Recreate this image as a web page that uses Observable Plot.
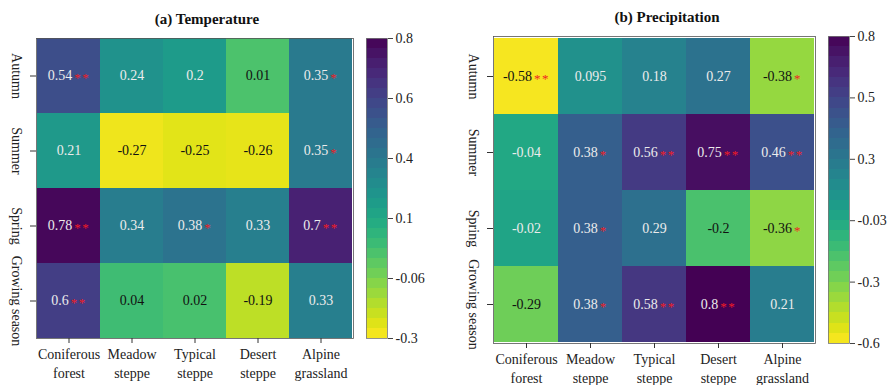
<!DOCTYPE html>
<html><head><meta charset="utf-8">
<script src="https://cdn.jsdelivr.net/npm/d3@7"></script>
<script src="https://cdn.jsdelivr.net/npm/@observablehq/plot@0.6"></script>
<style>
body{margin:0;background:#fff;}
#root{position:relative;width:894px;height:385px;overflow:hidden;font-family:'Liberation Serif',serif;background:#fff;}
.panel{position:absolute;top:0;}
.title{position:absolute;font-family:'Liberation Serif',serif;font-weight:bold;font-size:15px;line-height:15px;transform:translateX(-50%);white-space:nowrap;color:#111;}
</style></head><body><div id="root"></div>
<script>
// ---- data ----
const ecosystems = ["Coniferous forest","Meadow steppe","Typical steppe","Desert steppe","Alpine grassland"];
const xTickLabels = ["Coniferous\nforest","Meadow\nsteppe","Typical\nsteppe","Desert\nsteppe","Alpine\ngrassland"];
const seasons = ["Autumn","Summer","Spring","Growing season"];

// (a) Temperature correlations
const tempAutumn = [0.54, 0.24, 0.2, 0.01, 0.35];
const tempSummer = [0.21, -0.27, -0.25, -0.26, 0.35];
const tempSpring = [0.78, 0.34, 0.38, 0.33, 0.7];
const tempGrowing = [0.6, 0.04, 0.02, -0.19, 0.33];
const tempSigAutumn = ["**","","","","*"];
const tempSigSummer = ["","","","","*"];
const tempSigSpring = ["**","","*","","**"];
const tempSigGrowing = ["**","","","",""];
const tempColorbarLabels = ["0.8","0.6","0.4","0.1","-0.06","-0.3"];

// (b) Precipitation correlations
const precAutumn = [-0.58, 0.095, 0.18, 0.27, -0.38];
const precSummer = [-0.04, 0.38, 0.56, 0.75, 0.46];
const precSpring = [-0.02, 0.38, 0.29, -0.2, -0.36];
const precGrowing = [-0.29, 0.38, 0.58, 0.8, 0.21];
const precSigAutumn = ["**","","","","*"];
const precSigSummer = ["","*","**","**","**"];
const precSigSpring = ["","*","","","*"];
const precSigGrowing = ["","*","**","**",""];
const precColorbarLabels = ["0.8","0.5","0.3","-0.03","-0.3","-0.6"];

const root = document.getElementById("root");
const FONT = "'Liberation Serif', serif";

function buildRows(vals, sigs) {
  return seasons.flatMap((s, i) => ecosystems.map((e, j) => ({season: s, eco: e, value: vals[i][j], sig: sigs[i][j]})));
}

function addStars(svg) {
  d3.select(svg).selectAll("text").each(function() {
    if (this.querySelector("tspan")) return;
    const t = this.textContent;
    const m = t.match(/^(.*?)(\*+)$/);
    if (m) {
      this.textContent = m[1];
      const ts = document.createElementNS("http://www.w3.org/2000/svg", "tspan");
      ts.setAttribute("fill", "#f01c24");
      ts.setAttribute("font-size", "13");
      ts.setAttribute("letter-spacing", "1.5");
      ts.setAttribute("dx", "2");
      ts.setAttribute("dy", "2");
      ts.textContent = m[2];
      this.appendChild(ts);
    }
  });
}

function place(el, left) {
  const d = document.createElement("div");
  d.className = "panel";
  d.style.left = left + "px";
  d.appendChild(el);
  root.appendChild(d);
}

function heatmap({vals, sigs, lo, hi, left, width, marginLeft, marginRight, marginTop, marginBottom}) {
  const data = buildRows(vals, sigs);
  const norm = v => (v - lo) / (hi - lo);
  const dark = d => norm(d.value) < 0.35;
  const svg = Plot.plot({
    width, height: 385, marginLeft, marginRight, marginTop, marginBottom,
    style: {fontFamily: FONT, fontSize: "14px", color: "#222", background: "transparent", overflow: "visible"},
    x: {type: "band", domain: ecosystems, padding: 0, label: null},
    y: {type: "band", domain: seasons, padding: 0, label: null},
    color: {type: "linear", scheme: "viridis", reverse: true, domain: [lo, hi]},
    marks: [
      Plot.cell(data, {x: "eco", y: "season", fill: "value", inset: 0, shapeRendering: "crispEdges"}),
      Plot.frame({stroke: "#555", strokeWidth: 0.8}),
      Plot.text(data.filter(dark), {x: "eco", y: "season", text: d => String(d.value) + d.sig, fill: "#111", fontSize: 14}),
      Plot.text(data.filter(d => !dark(d)), {x: "eco", y: "season", text: d => String(d.value) + d.sig, fill: "#ececec", fontSize: 14}),
      Plot.axisX({tickSize: 5, tickPadding: 3, fontSize: 14, lineHeight: 1.3, stroke: "#333", fill: "#222", tickFormat: d => xTickLabels[ecosystems.indexOf(d)]}),
      Plot.axisY({tickSize: 6, stroke: "#333", tickFormat: () => ""}),
      Plot.text(seasons, {y: d => d, frameAnchor: "left", dx: -20, rotate: 90, textAnchor: "middle", lineAnchor: "middle", fontSize: 14, fill: "#222"})
    ]
  });
  addStars(svg);
  place(svg, left);
}

function colorbar({lo, hi, labels, left, width, marginLeft, marginRight, marginTop, marginBottom}) {
  const n = 30;
  const bands = d3.range(n).map(i => ({y1: lo + (hi - lo) * i / n, y2: lo + (hi - lo) * (i + 1) / n}));
  const tickPos = labels.map((_, i) => hi - (hi - lo) * i / (labels.length - 1));
  const svg = Plot.plot({
    width, height: 385, marginLeft, marginRight, marginTop, marginBottom,
    style: {fontFamily: FONT, fontSize: "14px", color: "#222", background: "transparent", overflow: "visible"},
    x: {domain: [0, 1], axis: null},
    y: {domain: [lo, hi]},
    color: {type: "linear", scheme: "viridis", reverse: true, domain: [lo, hi]},
    marks: [
      Plot.rect(bands, {x1: 0, x2: 1, y1: "y1", y2: "y2", fill: d => (d.y1 + d.y2) / 2, shapeRendering: "crispEdges"}),
      Plot.frame({stroke: "#777", strokeWidth: 0.8}),
      Plot.axisY({anchor: "right", ticks: tickPos, tickSize: 5, tickPadding: 3, fontSize: 14, stroke: "#444", fill: "#222",
        tickFormat: d => labels[tickPos.indexOf(d)], label: null})
    ]
  });
  place(svg, left);
}

function title(text, cx, top) {
  const d = document.createElement("div");
  d.className = "title";
  d.style.left = cx + "px";
  d.style.top = top + "px";
  d.textContent = text;
  root.appendChild(d);
}

heatmap({vals: [tempAutumn, tempSummer, tempSpring, tempGrowing], sigs: [tempSigAutumn, tempSigSummer, tempSigSpring, tempSigGrowing],
  lo: -0.3, hi: 0.8, left: 0, width: 360, marginLeft: 36, marginRight: 7, marginTop: 38, marginBottom: 47});
colorbar({lo: -0.3, hi: 0.8, labels: tempColorbarLabels, left: 355, width: 80, marginLeft: 11, marginRight: 48, marginTop: 38, marginBottom: 47});
heatmap({vals: [precAutumn, precSummer, precSpring, precGrowing], sigs: [precSigAutumn, precSigSummer, precSigSpring, precSigGrowing],
  lo: -0.6, hi: 0.8, left: 447, width: 375, marginLeft: 46, marginRight: 7, marginTop: 36, marginBottom: 42});
colorbar({lo: -0.6, hi: 0.8, labels: precColorbarLabels, left: 817, width: 77, marginLeft: 11, marginRight: 45, marginTop: 36, marginBottom: 42});
title("(a) Temperature", 207, 12);
title("(b) Precipitation", 667, 10);
</script></body></html>
